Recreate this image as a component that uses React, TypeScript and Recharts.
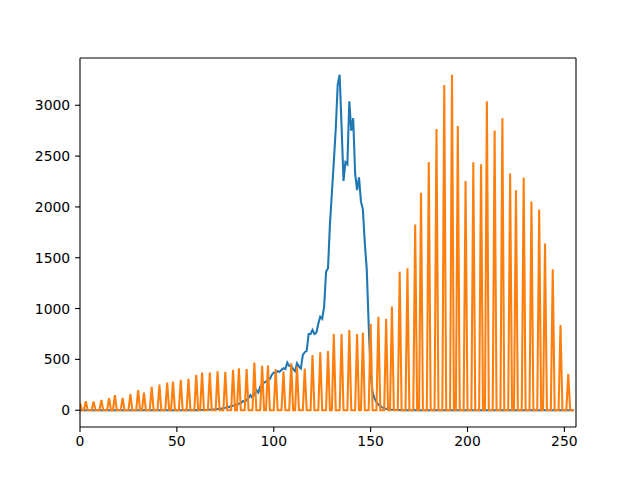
import { LineChart, Line, XAxis, YAxis, ReferenceLine } from "recharts";

// grey levels 0..255 on the x axis
const LEVELS = 256;

// original histogram (blue): counts for levels blueFirstLevel.., zero elsewhere
const blueFirstLevel = 60;
const blueCounts = [
  1, 1, 2, 2, 3, 3, 4, 5, 6, 8, 10, 12, 14, 17, 20, 24, 28, 33, 38, 44, 50, 56, 63,
  70, 89, 85, 102, 119, 148, 122, 158, 197, 174, 230, 253, 272, 282, 299, 308, 348,
  370, 370, 384, 377, 397, 413, 404, 469, 436, 439, 404, 384, 462, 430, 410, 544,
  571, 583, 750, 750, 790, 750, 763, 850, 920, 900, 1020, 1362, 1396, 1828, 2139,
  2443, 2767, 3200, 3300, 2797, 2256, 2440, 2420, 3039, 2751, 2872, 2329, 2165,
  2290, 2054, 1975, 1641, 1386, 839, 357,
  180, 115, 80, 55, 40, 28, 20, 14, 10, 7, 5, 4, 3, 2, 2, 1, 1,
];

// stretched histogram (orange): only these bins are filled
const spikeBins = [
  0, 3, 7, 11, 15, 18, 22, 26, 30, 33, 37, 41, 45, 48, 52, 56, 60, 63, 67, 71, 75,
  79, 82, 86, 90, 94, 97, 101, 105, 109, 112, 116, 120, 124, 128, 131, 135, 139,
  143, 146, 150, 154, 158, 161, 165, 169, 173, 176, 180, 184, 188, 192, 195, 199,
  203, 207, 210, 214, 218, 222, 225, 229, 233, 237, 240, 244, 248, 252,
];
const spikeCounts = [
  70, 89, 85, 102, 119, 148, 122, 158, 197, 174, 230, 253, 272, 282, 299, 308, 348,
  370, 370, 384, 377, 397, 413, 404, 469, 436, 439, 404, 384, 462, 430, 410, 544,
  571, 583, 750, 750, 790, 750, 763, 850, 920, 900, 1020, 1362, 1396, 1828, 2139,
  2443, 2767, 3200, 3300, 2797, 2256, 2440, 2420, 3039, 2751, 2872, 2329, 2165,
  2290, 2054, 1975, 1641, 1386, 839, 357,
];

const xTicks = [0, 50, 100, 150, 200, 250];
const yTicks = [0, 500, 1000, 1500, 2000, 2500, 3000];

const data = Array.from({ length: LEVELS }, (_, x) => {
  const bi = x - blueFirstLevel;
  const si = spikeBins.indexOf(x);
  return {
    x,
    blue: bi >= 0 && bi < blueCounts.length ? blueCounts[bi] : 0,
    orange: si >= 0 ? spikeCounts[si] : 0,
  };
});

const tickStyle = { fill: "#000", fontSize: 13.9, fontFamily: "DejaVu Sans" };
const spine = { stroke: "#000", strokeWidth: 1.1 };

export default function App() {
  return (
    <div style={{ position: "absolute", left: 0, top: 0, width: 640, height: 480, background: "#fff" }}>
      <LineChart width={640} height={480} data={data} margin={{ top: 58, right: 64, bottom: 0, left: 0 }}>
        <XAxis
          dataKey="x"
          type="number"
          domain={[0, 256]}
          ticks={xTicks}
          allowDataOverflow
          height={53}
          tickSize={4.9}
          tickMargin={4.5}
          tick={tickStyle}
          axisLine={spine}
          tickLine={spine}
        />
        <YAxis
          type="number"
          domain={[-165, 3465]}
          ticks={yTicks}
          allowDataOverflow
          width={80}
          tickSize={4.9}
          tickMargin={4.9}
          tick={tickStyle}
          axisLine={spine}
          tickLine={spine}
        />
        <ReferenceLine x={256} {...spine} />
        <ReferenceLine y={3465} {...spine} />
        <Line dataKey="blue" type="linear" stroke="#1f77b4" strokeWidth={2.08} dot={false} isAnimationActive={false} />
        <Line dataKey="orange" type="linear" stroke="#ff7f0e" strokeWidth={2.08} dot={false} isAnimationActive={false} />
      </LineChart>
    </div>
  );
}
